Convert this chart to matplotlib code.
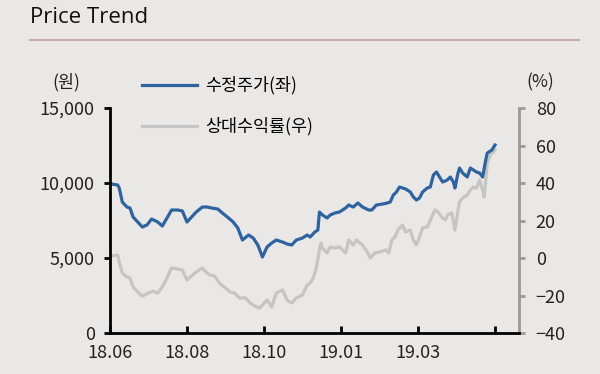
import matplotlib.pyplot as plt

plt.rcParams['font.family'] = ['Noto Sans CJK KR', 'DejaVu Sans']

# trading-day index -> adjusted price (KRW)
price_days = [0, 1, 5, 6, 8, 11, 13, 15, 18, 21, 24, 27, 31, 34, 37, 40, 44, 47, 50, 53,
              56, 60, 63, 66, 70, 73, 77, 80, 83, 86, 90, 93, 96, 99, 102, 105, 108, 112,
              115, 118, 121, 125, 128, 130, 133, 135, 136, 138, 141, 143, 146, 149, 153,
              155, 158, 161, 164, 168, 170, 173, 177, 180, 182, 184, 186, 188, 192, 195,
              197, 199, 201, 203, 206, 208, 210, 212, 214, 216, 219, 221, 223, 224, 226,
              227, 229, 232, 234, 236, 238, 240, 242, 244, 245, 248, 250]
price = [9900, 9933, 9867, 9667, 8733, 8400, 8333, 7733, 7400, 7067, 7200, 7600, 7400,
         7133, 7667, 8200, 8200, 8133, 7400, 7733, 8067, 8400, 8400, 8333, 8267, 8000,
         7667, 7400, 7000, 6200, 6533, 6333, 5867, 5067, 5733, 6000, 6200, 6067, 5933,
         5867, 6200, 6333, 6533, 6400, 6733, 6867, 8067, 7867, 7667, 7867, 8000, 8067,
         8333, 8533, 8400, 8667, 8400, 8200, 8200, 8533, 8600, 8667, 8733, 9200, 9400,
         9733, 9600, 9400, 9067, 8867, 9000, 9400, 9667, 9733, 10533, 10733, 10400,
         10067, 10200, 10400, 10067, 9667, 10667, 11000, 10667, 10400, 11000, 10867,
         10733, 10667, 10400, 11533, 12000, 12200, 12533]

# trading-day index -> relative return (%)
rel_days = [0, 1, 5, 6, 8, 11, 13, 15, 18, 21, 25, 28, 31, 34, 37, 40, 44, 47, 50, 53,
            56, 60, 63, 65, 68, 71, 75, 78, 81, 84, 88, 91, 94, 97, 99, 102, 105, 108,
            112, 115, 118, 121, 125, 128, 130, 132, 134, 136, 137, 138, 141, 143, 146,
            149, 153, 155, 158, 160, 164, 167, 169, 172, 175, 179, 181, 183, 185, 187,
            190, 192, 195, 197, 199, 201, 203, 206, 209, 211, 213, 216, 218, 219, 222,
            224, 226, 227, 229, 232, 234, 236, 238, 240, 242, 243, 245, 247, 249, 250]
rel_return = [0.5, 1.1, 1.6, -2.1, -8.0, -10.1, -10.7, -15.5, -18.1, -20.3, -18.7, -17.6,
              -18.7, -15.5, -10.7, -5.3, -5.9, -6.4, -11.7, -9.6, -7.5, -5.3, -8.0, -9.1,
              -9.6, -13.3, -16.0, -18.1, -18.7, -21.3, -21.3, -24.0, -25.6, -26.7, -25.1,
              -22.4, -26.1, -18.7, -17.1, -22.4, -24.0, -21.3, -19.7, -14.4, -13.3, -10.7,
              -5.3, 4.3, 8.0, 5.3, 2.7, 5.9, 5.3, 5.9, 2.7, 9.6, 6.9, 9.6, 6.9, 3.2, 0.0,
              2.7, 3.2, 4.3, 2.7, 9.6, 11.2, 14.9, 17.6, 13.9, 14.9, 9.6, 6.9, 11.2, 16.0,
              16.5, 21.9, 25.6, 24.5, 21.3, 20.3, 22.9, 24.0, 14.9, 25.6, 29.9, 32.0, 33.6,
              36.3, 37.9, 37.3, 41.6, 36.3, 32.5, 50.7, 54.9, 56.5, 57.6]

tick_days = [0, 50, 100, 150, 200, 250]
tick_labels = ['18.06', '18.08', '18.10', '19.01', '19.03', '']

bg = '#e9e8e6'
blue = '#2f63a0'
grey = '#c5c5c5'
txt = '#222222'

fig = plt.figure(figsize=(6, 3.74), dpi=100, facecolor=bg)
fig.text(0.05, 0.952, 'Price Trend', fontsize=16, color='#111111', va='center',
         family=['Open Sans', 'DejaVu Sans'])
fig.add_artist(plt.Line2D([0.05, 0.965], [0.893, 0.893], color='#c9a9b2', lw=1.5))

ax = fig.add_axes([0.1833, 0.1096, 0.6817, 0.6016])
ax2 = ax.twinx()
ax.set_zorder(ax2.get_zorder() + 1)
ax.patch.set_visible(False)
ax2.set_facecolor(bg)

l2, = ax2.plot(rel_days, rel_return, color=grey, lw=2.3, label='상대수익률(우)')
l1, = ax.plot(price_days, price, color=blue, lw=2.3, label='수정주가(좌)')

ax.set_xlim(0, 265.6)
ax.set_ylim(0, 15000)
ax2.set_ylim(-40, 80)
ax.set_yticks([0, 5000, 10000, 15000])
ax.set_yticklabels(['0', '5,000', '10,000', '15,000'])
ax2.set_yticks([-40, -20, 0, 20, 40, 60, 80])
ax2.set_yticklabels(['\u221240', '\u221220', '0', '20', '40', '60', '80'])
ax.set_xticks(tick_days)
ax.set_xticklabels(tick_labels)

for s in ['top', 'right']:
    ax.spines[s].set_visible(False)
for s in ['top', 'left', 'bottom']:
    ax2.spines[s].set_visible(False)
ax.spines['left'].set_linewidth(2)
ax.spines['bottom'].set_linewidth(2)
ax2.spines['right'].set_color('#9a9a9a')
ax2.spines['right'].set_linewidth(2)

ax.tick_params(axis='y', direction='out', length=4, width=2, labelsize=13,
               labelcolor=txt, pad=7)
ax.tick_params(axis='x', direction='in', length=5, width=2, labelsize=13,
               labelcolor=txt, pad=8)
ax2.tick_params(axis='y', direction='out', length=4, width=2, color='#9a9a9a',
                labelsize=13, labelcolor=txt, pad=8)

fig.text(0.111, 0.781, '(원)', fontsize=12.5, color=txt, ha='center', va='center')
fig.text(0.901, 0.779, '(%)', fontsize=12.5, color=txt, ha='center', va='center')

fig.legend(handles=[l1, l2], loc='upper left', bbox_to_anchor=(0.21, 0.838),
           frameon=False, handlelength=3.2, handletextpad=0.45,
           labelspacing=1.3, prop={'size': 12.5})

fig.savefig('out.png', dpi=100, facecolor=bg)
